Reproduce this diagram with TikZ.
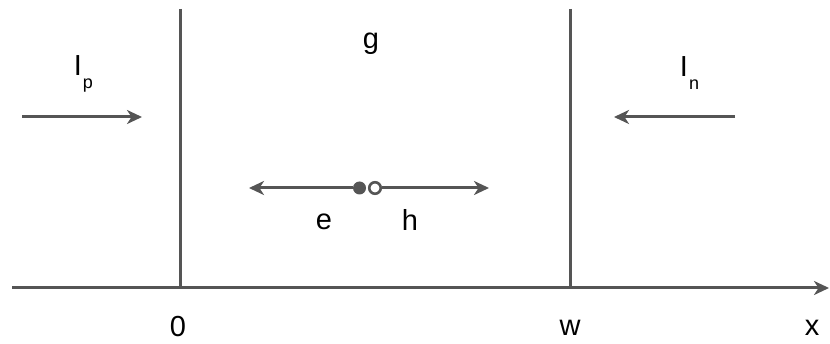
\documentclass[tikz,border=0pt]{standalone}
\usepackage{fontspec}
\setmainfont{Liberation Sans}
\usetikzlibrary{arrows.meta}
\definecolor{ln}{HTML}{555555}
\tikzset{
  ax/.style={draw=ln, line width=3pt},
  arr/.style={draw=ln, line width=3pt, -{Stealth[length=15pt,width=14pt,inset=4.5pt]}},
  lbl/.style={font=\fontsize{29}{34}\selectfont, text=black, inner sep=0pt},
  sub/.style={font=\fontsize{18}{20}\selectfont, text=black, inner sep=0pt},
}
\begin{document}
\begin{tikzpicture}[x=1pt,y=-1pt]
\useasboundingbox (0,0) rectangle (830,344);
\coordinate (axL) at (12,288);
\coordinate (axR) at (829,288);
\draw[arr] (axL) -- (axR);
\coordinate (v0t) at (180,9);
\coordinate (v0b) at (180,288);
\coordinate (vwt) at (570,9);
\coordinate (vwb) at (570,288);
\draw[ax] (v0t) -- (v0b);
\draw[ax] (vwt) -- (vwb);
\coordinate (ipA) at (22,117);
\coordinate (ipB) at (142,117);
\draw[arr] (ipA) -- (ipB);
\coordinate (inA) at (735,117);
\coordinate (inB) at (614,117);
\draw[arr] (inA) -- (inB);
\node[lbl] (ip) at (78,66) {I};
\node[sub] (ipsub) at (88,86) {p};
\node[lbl] (in) at (684,67) {I};
\node[sub] (insub) at (694,85) {n};
\node[lbl] (g) at (371,44) {g};
\coordinate (eL) at (249,188);
\coordinate (hR) at (489,188);
\node[circle, fill=ln, minimum size=13pt, inner sep=0pt] (edot) at (359.5,188) {};
\node[circle, draw=ln, fill=white, line width=2.6pt, minimum size=11.5pt, inner sep=0pt] (hdot) at (375,188) {};
\draw[arr] (edot) -- (eL);
\draw[arr] (hdot) -- (hR);
\node[lbl] (e) at (324,222) {e};
\node[lbl] (h) at (410,220) {h};
\node[lbl] (zero) at (178,327) {0};
\node[lbl] (w) at (570,328) {w};
\node[lbl] (x) at (812,328) {x};
\end{tikzpicture}
\end{document}
